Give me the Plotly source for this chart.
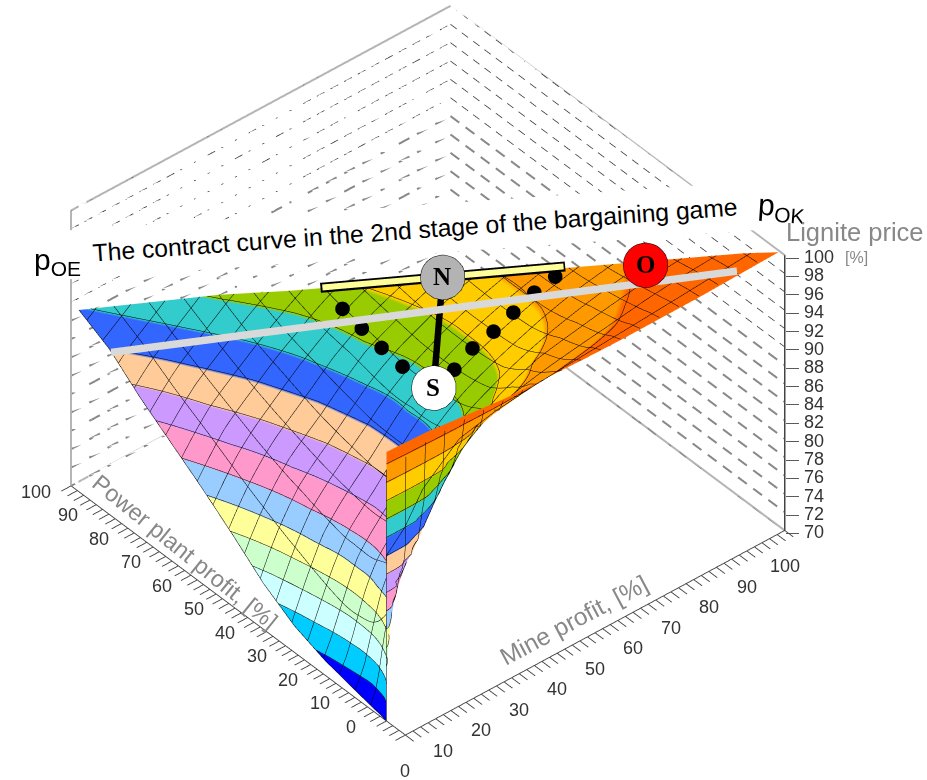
import numpy as np
import plotly.graph_objects as go

# profit share of the mine along each ray, and distance from the origin
ray_share = [0, .1, .2, .3, .4, .5, .6, .7, .8, .9, .95, 1]
profit_level = [0, .02, .05, .1, .2, .3, .4, .5, .6, .7, .8, .9, 1]
corner_mine = 100.0
corner_plant = 97.5
corner_plant_skew = -4.0
# lignite price [%]
lignite_price = [
 [70,70.5,71,71.6,73,74,76,78,80,82,85,99.3],
 [70.2,70.7,71.2,71.8,74,75.5,79,80.5,82,83,86,99.3],
 [70.4,71,71.5,72.8,75.5,77.5,81,84,85,86,87.5,99.3],
 [70.8,71.5,72.3,74.5,77.5,80.4,82.2,85,86,90,91.5,99.3],
 [71.6,73,75.2,78,80.8,82.6,84.1,86.5,90,94.5,95.8,99],
 [72.9,75.5,78,80.7,82.4,84,86,89.5,93,96.5,97,98.7],
 [75,78,80.8,82.6,84.1,86,88,91,94.5,97,97.6,98.7],
 [77.8,80.4,82.8,84.4,86,88.2,90.6,92.9,95.4,97.2,98,98.7],
 [80.4,82.7,84.7,86.1,87.9,90.3,92.1,93.8,96.2,97.5,98.3,98.8],
 [82.8,85,86.4,87.9,89.9,91.6,93.2,94.7,96.7,97.9,98.6,99],
 [85.2,87,88.2,89.8,91.7,92.8,94.3,95.6,97.2,98.4,98.9,99.2],
 [88,89,90.1,91.3,92.9,94,95.2,96.4,97.7,98.8,99.2,99.5],
 [89.8,91,92.2,93,94,95,96,97,98,99,99.5,99.8],
]
band_colors = ["#0000ff","#00ccff","#ccffff","#ccffcc","#ffff99","#99ccff","#ff99cc","#cc99ff",
               "#ffcc99","#3366ff","#33cccc","#99cc00","#ffcc00","#ff9900","#ff6600"]
price_levels = list(range(70, 102, 2))
mine_ticks = list(range(0, 102, 2))
plant_ticks = list(range(-6, 102, 2))
label_ticks = list(range(0, 110, 10))

dots_x = [34.6,35.2,35.6,35.7,39.8,46,48.9,54.7,60.3,64.9]
dots_y = [55.6,50.2,44.4,37.9,26.4,28.1,24.9,25.6,25.7,24.6]
dots_z = [92.8,91.9,91.2,90.8,92.5,93,95,95.6,96.5,97.5]
contract_x = [0.4,91]; contract_y = [87.8,-1.7]; contract_z = [87.4,99]
bar_x = [29.5,71.3]; bar_y = [56.4,29.1]; bar_z = [96,96]
bar_in_x = [26.1,67.3]; bar_in_y = [51.7,24.8]; bar_in_z = [98,98]
stem_x = [61.8,37.7]; stem_y = [56.5,30.4]; stem_z = [90,90]
pt_names = ["N","S","O"]
pt_x = [42.9,33.9,76.4]; pt_y = [33.9,25.9,9.9]; pt_z = [100,92,100]
pt_colors = ["#b3b3b3","#ffffff","#ff0000"]

W, H = 927, 780
r = np.array(profit_level); s = np.array(ray_share)
X = np.outer(r, s) * corner_mine
Y = np.outer(r, (1 - s) * corner_plant + s * corner_plant_skew)
Z = np.array(lignite_price)

n = len(band_colors)
cs = []
for i, c in enumerate(band_colors):
    cs += [[i / n, c], [(i + 1) / n, c]]

fig = go.Figure()
fig.add_trace(go.Surface(x=X, y=Y, z=Z, surfacecolor=Z, colorscale=cs, cmin=70, cmax=100, showscale=False,
    lighting=dict(ambient=1, diffuse=0, specular=0, fresnel=0, roughness=1),
    hoverinfo="skip",
    contours=dict(
        x=dict(show=True, start=0, end=100, size=5, color="#000", width=1.5, highlight=False),
        y=dict(show=True, start=0, end=100, size=5, color="#000", width=1.5, highlight=False),
        z=dict(show=True, start=70, end=100, size=2, color="#000", width=1.5, highlight=False))))

# dashed grid of the two back walls: explicit dashes give the reference's dash length
for z in price_levels:
    thin = z >= 90
    dash, gap = (2.0, 1.6) if thin else (2.8, 2.0)
    wx, wy = [], []
    pos = 0.0
    while pos < 100:
        wx += [pos, min(pos + dash, 100), None]; wy += [100, 100, None]
        pos += dash + gap
    pos = 100.0
    while pos > -6:
        wx += [100, 100, None]; wy += [pos, max(pos - dash, -6), None]
        pos -= dash + gap
    fig.add_trace(go.Scatter3d(x=wx, y=wy, z=[None if v is None else z for v in wx], mode="lines", showlegend=False,
        hoverinfo="skip", line=dict(color="#333" if thin else "#888", width=1.5 if thin else 4)))
fig.add_trace(go.Scatter3d(x=[0, 0, 100, 100, None, 0, 100, 100], y=[100, 100, 100, -6, None, 100, 100, -6],
    z=[70, 100, 100, 100, None, 70, 70, 70], mode="lines", showlegend=False, hoverinfo="skip",
    line=dict(color="#b5b5b5", width=4)))
fig.add_trace(go.Scatter3d(x=[100, 100], y=[-6, -6], z=[70, 100], mode="lines", showlegend=False, hoverinfo="skip",
    line=dict(color="#444", width=3)))

# overlay layers, each in its own scene so that they sit on the surface
fig.add_trace(go.Scatter3d(x=dots_x, y=dots_y, z=dots_z, mode="markers", scene="scene2", showlegend=False,
    marker=dict(color="black", size=8.5)))
fig.add_trace(go.Scatter3d(x=stem_x, y=stem_y, z=stem_z, mode="lines", scene="scene2", showlegend=False,
    line=dict(color="black", width=13)))
fig.add_trace(go.Scatter3d(x=contract_x, y=contract_y, z=contract_z, mode="lines", scene="scene3", showlegend=False,
    line=dict(color="#d9d9d9", width=15)))
fig.add_trace(go.Scatter3d(x=bar_x, y=bar_y, z=bar_z, mode="lines", scene="scene3", showlegend=False,
    line=dict(color="black", width=20)))
fig.add_trace(go.Scatter3d(x=bar_in_x, y=bar_in_y, z=bar_in_z, mode="lines", scene="scene3", showlegend=False,
    line=dict(color="#ffff99", width=12)))
fig.add_trace(go.Scatter3d(x=pt_x, y=pt_y, z=pt_z, mode="markers", scene="scene4", showlegend=False,
    marker=dict(color=pt_colors, size=26, opacity=1, line=dict(color="black", width=3))))

d = 3.0
def camera(cx, cy, cz):
    return dict(projection=dict(type="orthographic"), up=dict(x=0, y=0, z=1), center=dict(x=cx, y=cy, z=cz),
                eye=dict(x=cx - .501 * d, y=cy - .589 * d, z=cz + .634 * d))
cam = camera(0.049, -0.0833, -0.0387)
cam_over = camera(0.0474, -0.0852, -0.0418)
aspect = dict(x=1.277, y=1.323, z=.913)
fnt = dict(family="Liberation Sans", size=18, color="#333")
tick_fnt = dict(family="Liberation Sans", size=13, color="#444")

def axis(vals, rng):
    return dict(range=rng, tickmode="array", tickvals=vals, showticklabels=False,
                showgrid=False, zeroline=False, showbackground=False, showspikes=False,
                showline=True, linecolor="#444", linewidth=2, ticks="outside", ticklen=13, tickcolor="#444",
                tickwidth=2, title=dict(text=""))

def hidden(rng):
    return dict(range=rng, visible=False, showgrid=False, zeroline=False, showbackground=False, showspikes=False)

def tick_note(text, x, y, z, dx=0, dy=0, anchor="center", font=fnt):
    return dict(x=x, y=y, z=z, text=text, showarrow=False, xanchor=anchor, yanchor="middle",
                xshift=dx, yshift=dy, borderpad=0, font=font)

scene_notes = ([tick_note(str(v), v, -6, 70, 0, -36) for v in label_ticks]
               + [tick_note(str(v), 0, v, 70, -35, -6) for v in label_ticks]
               + [tick_note(str(v), 100, -6, v, 18, -2, "left") for v in price_levels]
               + [tick_note("—", 100, -6, v, 0, -2, "left", tick_fnt) for v in price_levels])

scene = dict(domain=dict(x=[0, 1], y=[0, 1]), camera=cam, aspectmode="manual", aspectratio=aspect,
             bgcolor="rgba(0,0,0,0)",
             xaxis=axis(mine_ticks, [0, 100]), yaxis=axis(plant_ticks, [-6, 100]),
             zaxis=hidden([70, 100]), annotations=scene_notes)
def over(**kw):
    return dict(domain=dict(x=[0, 1], y=[0, 1]), camera=cam_over, aspectmode="manual", aspectratio=aspect,
                bgcolor="rgba(0,0,0,0)", xaxis=hidden([0, 100]), yaxis=hidden([-6, 100]),
                zaxis=hidden([70, 100]), **kw)

letters = [dict(x=a, y=b, z=c, text="<b>%s</b>" % t, showarrow=False, xanchor="center", yanchor="middle",
                font=dict(family="Liberation Serif", size=25, color="black"))
           for t, a, b, c in zip(pt_names, pt_x, pt_y, pt_z)]

def note(text, px, py, size, color="black", angle=0, **kw):
    return dict(text=text, x=px / W, y=1 - py / H, xref="paper", yref="paper", showarrow=False,
                xanchor="center", yanchor="middle", textangle=angle,
                font=dict(family="Liberation Sans", size=size, color=color), **kw)

notes = [
    note("The contract curve in the 2nd stage of the bargaining game", 415, 230, 24.7, angle=-4.1,
         bgcolor="white", width=720, height=46),
    note("p<sub>OE</sub>", 57, 262, 30),
    note("p<sub>OK</sub>", 781, 208, 30, angle=4),
    note("Lignite price", 855, 232, 25.5, "#888"),
    note("[%]", 856, 258, 16, "#888"),
    note("Power plant profit, [%]", 185, 552, 23.5, "#888", angle=39),
    note("Mine profit, [%]", 573, 620, 24.5, "#888", angle=-28),
]

fig.update_layout(width=W, height=H, margin=dict(l=0, r=0, t=0, b=0), paper_bgcolor="white", showlegend=False,
                  scene=scene, scene2=over(), scene3=over(), scene4=over(annotations=letters), annotations=notes)
fig.write_html("out.html", post_script="document.body.style.margin='0';", config=dict(displayModeBar=False))
